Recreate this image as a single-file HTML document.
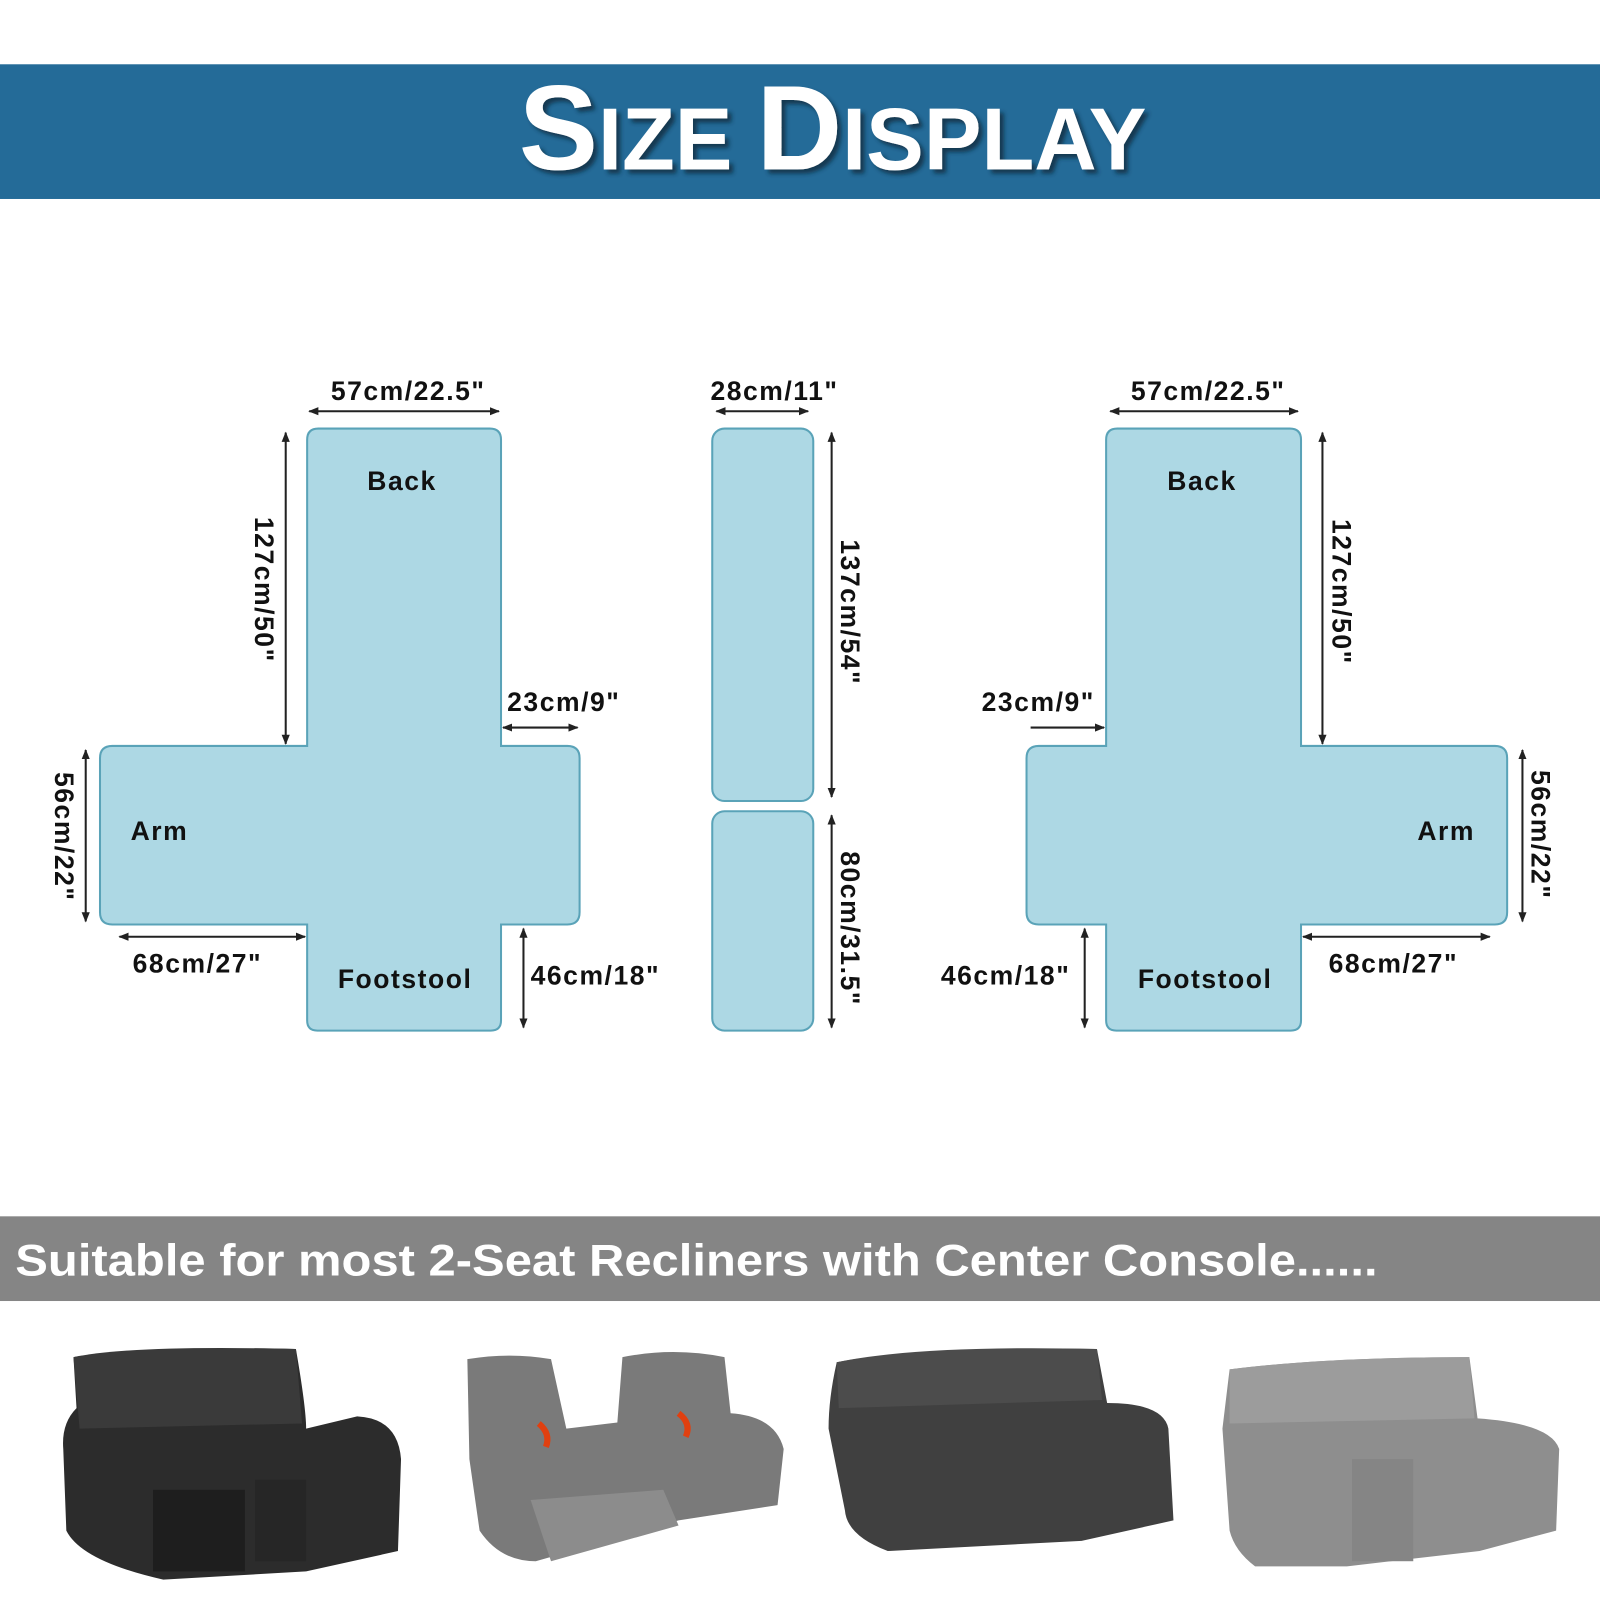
<!DOCTYPE html>
<html><head><meta charset="utf-8"><style>
html,body{margin:0;padding:0;background:#fff;width:1600px;height:1600px;overflow:hidden}
svg{display:block}
.l{font-family:"Liberation Sans",sans-serif;font-size:26px;font-weight:bold;letter-spacing:1.5px;fill:#111}
</style></head><body>
<svg width="1600" height="1600" viewBox="0 0 1568 1568" xmlns="http://www.w3.org/2000/svg">
<defs>
<marker id="a" viewBox="0 0 10 10" refX="9" refY="5" markerWidth="5" markerHeight="5" orient="auto-start-reverse"><path d="M0,1 L10,5 L0,9 Z" fill="#222"/></marker>
<filter id="sh"><feDropShadow dx="4" dy="4" stdDeviation="2" flood-color="#0a2a40" flood-opacity="0.8"/></filter>
</defs>
<rect x="0" y="63" width="1568" height="132" fill="#246b98"/>
<text x="816" y="166" text-anchor="middle" font-family="Liberation Sans,sans-serif" font-weight="bold" fill="#fff" filter="url(#sh)" textLength="615" lengthAdjust="spacingAndGlyphs"><tspan font-size="118">S</tspan><tspan font-size="86">IZE </tspan><tspan font-size="118">D</tspan><tspan font-size="86">ISPLAY</tspan></text>

<g fill="#add8e4" stroke="#5aa3b8" stroke-width="2">
<path d="M312,420 H480 Q491,420 491,431 V731 H556 Q568,731 568,743 V894 Q568,906 556,906 H491 V1000 Q491,1010 481,1010 H311 Q301,1010 301,1000 V906 H110 Q98,906 98,894 V743 Q98,731 110,731 H301 V431 Q301,420 312,420 Z"/>
<rect x="698" y="420" width="99" height="365" rx="12"/>
<rect x="698" y="795" width="99" height="215" rx="12"/>
<path d="M1095,420 H1264 Q1275,420 1275,431 V731 H1465 Q1477,731 1477,743 V894 Q1477,906 1465,906 H1275 V1000 Q1275,1010 1265,1010 H1094 Q1084,1010 1084,1000 V906 H1018 Q1006,906 1006,894 V743 Q1006,731 1018,731 H1084 V431 Q1084,420 1095,420 Z"/>
</g>

<g stroke="#222" stroke-width="2" marker-start="url(#a)" marker-end="url(#a)">
<line x1="303" y1="403" x2="489" y2="403"/>
<line x1="493" y1="713" x2="566" y2="713"/>
<line x1="84" y1="735" x2="84" y2="903"/>
<line x1="117" y1="918" x2="299" y2="918"/>
<line x1="702" y1="403" x2="792" y2="403"/>
<line x1="815" y1="424" x2="815" y2="781"/>
<line x1="815" y1="799" x2="815" y2="1007"/>
<line x1="1088" y1="403" x2="1272" y2="403"/>
<line x1="1492" y1="735" x2="1492" y2="903"/>
<line x1="1277" y1="918" x2="1460" y2="918"/>
</g>
<g stroke="#222" stroke-width="2">
<line x1="280" y1="424" x2="280" y2="729" marker-end="url(#a)" marker-start="url(#a)"/>
<line x1="513" y1="1007" x2="513" y2="910" marker-end="url(#a)" marker-start="url(#a)"/>
<line x1="1296" y1="424" x2="1296" y2="729" marker-end="url(#a)" marker-start="url(#a)"/>
<line x1="1010" y1="713" x2="1082" y2="713" marker-end="url(#a)"/>
<line x1="1063" y1="1007" x2="1063" y2="910" marker-end="url(#a)" marker-start="url(#a)"/>
</g>

<g class="l">
<text x="400" y="392" text-anchor="middle">57cm/22.5"</text>
<text x="394" y="480" text-anchor="middle">Back</text>
<text x="497" y="697">23cm/9"</text>
<text x="128" y="823">Arm</text>
<text x="130" y="953">68cm/27"</text>
<text x="397" y="968" text-anchor="middle">Footstool</text>
<text x="520" y="965">46cm/18"</text>
<text transform="translate(250,578) rotate(90)" text-anchor="middle">127cm/50"</text>
<text transform="translate(54,820) rotate(90)" text-anchor="middle">56cm/22"</text>
<text x="759" y="392" text-anchor="middle">28cm/11"</text>
<text transform="translate(824,600) rotate(90)" text-anchor="middle">137cm/54"</text>
<text transform="translate(824,910) rotate(90)" text-anchor="middle">80cm/31.5"</text>
<text x="1184" y="392" text-anchor="middle">57cm/22.5"</text>
<text x="1178" y="480" text-anchor="middle">Back</text>
<text x="962" y="697">23cm/9"</text>
<text x="1389" y="823">Arm</text>
<text x="1302" y="953">68cm/27"</text>
<text x="1181" y="968" text-anchor="middle">Footstool</text>
<text x="922" y="965">46cm/18"</text>
<text transform="translate(1306,580) rotate(90)" text-anchor="middle">127cm/50"</text>
<text transform="translate(1501,818) rotate(90)" text-anchor="middle">56cm/22"</text>
</g>

<rect x="0" y="1192" width="1568" height="83" fill="#858585"/>
<text x="15" y="1250" font-family="Liberation Sans,sans-serif" font-weight="bold" font-size="44" fill="#fff" textLength="1335" lengthAdjust="spacingAndGlyphs">Suitable for most 2-Seat Recliners with Center Console......</text>

<!-- sofa 1 -->
<g>
<path d="M72,1330 Q130,1320 290,1322 Q300,1380 300,1400 L350,1388 Q390,1390 393,1430 L390,1520 L300,1540 L160,1548 Q80,1530 65,1500 L62,1420 Q60,1395 75,1380 Z" fill="#2c2c2c"/>
<path d="M72,1330 Q130,1318 290,1322 L296,1395 L78,1400 Z" fill="#3a3a3a"/>
<rect x="150" y="1460" width="90" height="80" fill="#1e1e1e"/>
<rect x="250" y="1450" width="50" height="80" fill="#262626"/>
</g>
<!-- sofa 2 -->
<g>
<path d="M458,1332 Q500,1325 540,1332 L555,1400 L605,1394 L610,1330 Q660,1320 710,1330 L716,1385 Q760,1388 768,1420 L762,1475 L665,1490 L525,1530 Q490,1530 470,1500 L460,1430 Z" fill="#7a7a7a"/>
<path d="M520,1470 L650,1460 L665,1495 L540,1530 Z" fill="#8c8c8c"/>
<path d="M528,1395 Q540,1405 535,1418" stroke="#e04010" stroke-width="6" fill="none"/>
<path d="M665,1385 Q678,1395 672,1408" stroke="#e04010" stroke-width="6" fill="none"/>
</g>
<!-- sofa 3 -->
<g>
<path d="M820,1335 Q900,1320 1075,1322 L1085,1375 Q1140,1375 1145,1400 L1150,1490 L1060,1510 L870,1520 Q830,1505 828,1480 L812,1400 Q812,1370 820,1335 Z" fill="#404040"/>
<path d="M820,1335 Q900,1318 1075,1322 L1080,1372 L822,1380 Z" fill="#4c4c4c"/>
</g>
<!-- sofa 4 -->
<g>
<path d="M1205,1342 Q1300,1330 1440,1330 L1448,1390 Q1520,1395 1528,1420 L1525,1500 L1450,1520 L1320,1535 L1230,1535 Q1210,1520 1205,1500 L1198,1400 Z" fill="#8e8e8e"/>
<path d="M1205,1342 Q1300,1330 1440,1330 L1445,1390 L1205,1395 Z" fill="#9c9c9c"/>
<rect x="1325" y="1430" width="60" height="100" fill="#858585"/>
</g>
</svg>
</body></html>
